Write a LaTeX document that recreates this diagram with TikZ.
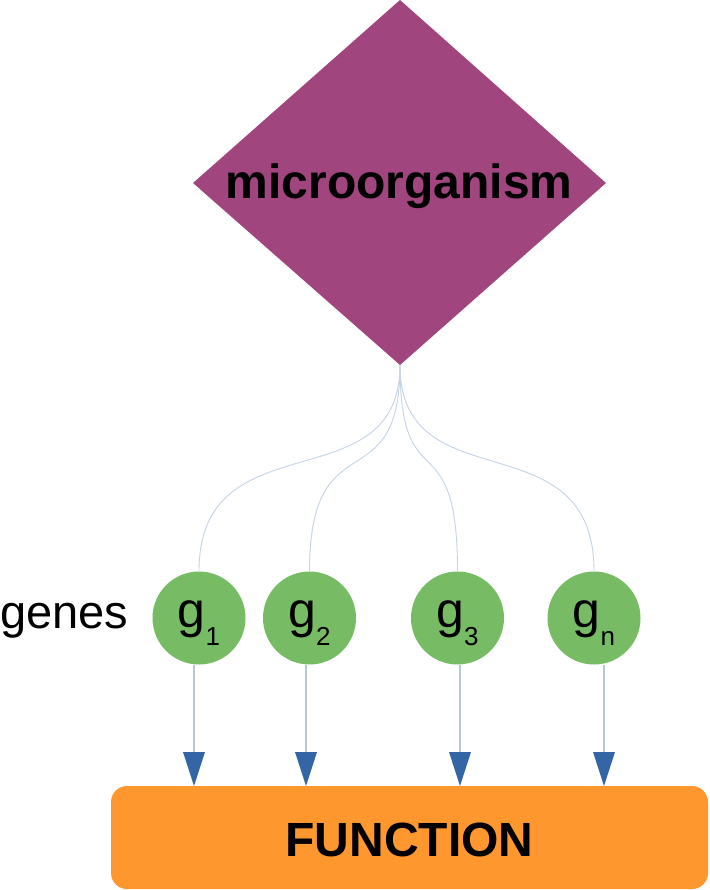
\documentclass[tikz,border=0pt]{standalone}
\usepackage{fontspec}
\setmainfont{Liberation Sans}
\usetikzlibrary{arrows.meta}
\definecolor{dpurple}{RGB}{160,69,125}
\definecolor{ggreen}{RGB}{119,188,101}
\definecolor{forange}{RGB}{255,151,47}
\definecolor{ablue}{RGB}{52,101,164}
\definecolor{lblue}{RGB}{180,199,220}
\definecolor{llblue}{RGB}{196,211,229}
\newcommand{\gsub}[1]{\raisebox{-18pt}{\fontsize{26}{30}\selectfont #1}}
\begin{document}
\begin{tikzpicture}[x=1pt,y=-1pt,
  gene/.style={circle,fill=ggreen,draw=none,minimum size=93pt,inner sep=0pt},
  glabel/.style={inner sep=0pt,font=\fontsize{50}{54}\selectfont,anchor=base},
  link/.style={draw=llblue,line width=0.9pt},
  flow/.style={draw=lblue,line width=1.5pt,-{Triangle[width=22pt,length=34pt,line width=0pt,color=ablue,fill=ablue]}},
  funcbox/.style={fill=forange,draw=none,rounded corners=16pt}]
\useasboundingbox (0,0) rectangle (709,890);
% diamond
\coordinate (mt) at (400,0);
\coordinate (ml) at (193,183);
\coordinate (mr) at (606,183);
\coordinate (mb) at (400,365);
\fill[dpurple] (mt) -- (mr) -- (mb) -- (ml) -- cycle;
\node[inner sep=0pt,anchor=base,font=\fontsize{48}{56}\selectfont\bfseries] (micro) at (399,199) {microorganism};
% function box
\fill[funcbox] (111,786) rectangle (708,889);
\node[inner sep=0pt,anchor=base,font=\fontsize{48}{56}\selectfont\bfseries] (func) at (409.5,856) {FUNCTION};
% genes
\node[inner sep=0pt,anchor=base west,font=\fontsize{47}{54}\selectfont] (genes) at (0,628) {genes};
\node[gene] (g1) at (199,618) {};
\node[gene] (g2) at (309.5,618) {};
\node[gene] (g3) at (457.5,618) {};
\node[gene] (gn) at (594,618) {};
\node[glabel] (g1t) at (199,627) {g\gsub{1}};
\node[glabel] (g2t) at (309.5,627) {g\gsub{2}};
\node[glabel] (g3t) at (457.5,627) {g\gsub{3}};
\node[glabel] (gnt) at (594,627) {g\gsub{n}};
% curves
\draw[link] (mb) .. controls +(0,140) and +(0,-155) .. (g1.north);
\draw[link] (mb) .. controls +(0,140) and +(0,-155) .. (g2.north);
\draw[link] (mb) .. controls +(0,140) and +(0,-155) .. (g3.north);
\draw[link] (mb) .. controls +(0,140) and +(0,-155) .. (gn.north);
% arrows
\coordinate (t1) at (194,786);
\coordinate (t2) at (306,786);
\coordinate (t3) at (460,786);
\coordinate (tn) at (604,786);
\draw[flow] (g1.south -| t1) -- (t1);
\draw[flow] (g2.south -| t2) -- (t2);
\draw[flow] (g3.south -| t3) -- (t3);
\draw[flow] (gn.south -| tn) -- (tn);
\end{tikzpicture}
\end{document}
